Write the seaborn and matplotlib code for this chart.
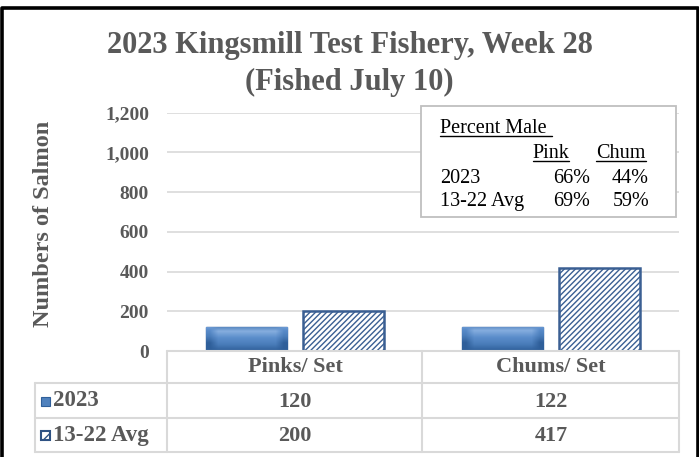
import matplotlib
matplotlib.use("Agg")
import matplotlib.pyplot as plt
import seaborn as sns
import pandas as pd
import numpy as np
from matplotlib.patches import Rectangle
from matplotlib.lines import Line2D
from matplotlib.colors import LinearSegmentedColormap

# data
categories = ["Pinks/ Set", "Chums/ Set"]
series = ["2023", "13-22 Avg"]
vals_2023 = [120, 122]
vals_avg = [200, 417]

pct_cols = ["Pink", "Chum"]
pct_rows = ["2023", "13-22 Avg"]
pct_2023 = ["66%", "44%"]
pct_avg = ["69%", "59%"]

df = pd.DataFrame({
    "cat": categories * 2,
    "series": [series[0]] * 2 + [series[1]] * 2,
    "n": vals_2023 + vals_avg,
})

sns.set_style("white")
plt.rcParams["font.family"] = ["Liberation Serif", "DejaVu Serif"]
plt.rcParams["hatch.linewidth"] = 1.0

gray = "#595959"
line_gray = "#D9D9D9"
blue = "#4F81BD"
dark_blue = "#2E5283"
W, H = 699, 457

# pixel helpers for the layout
def fx(px):
    return px / W

def fy(py):
    return 1 - py / H

fig = plt.figure(figsize=(W / 100, H / 100), dpi=100)
ax_l, ax_r, ax_b, ax_t = 167, 679, 351, 112.7
ax = fig.add_axes([fx(ax_l), fy(ax_b), (ax_r - ax_l) / W, (ax_b - ax_t) / H])

sns.barplot(data=df, x="cat", y="n", hue="series", order=categories,
            hue_order=series, palette=[blue, "white"], width=0.76, gap=0.16,
            errorbar=None, saturation=1, legend=False, ax=ax)

# bevelled look for the 2023 bars
bevel = LinearSegmentedColormap.from_list(
    "bevel", ["#2F5F9A", "#4A7DBA", "#5B8DCB", "#86AEDF", "#3F72B0"])
for bar in ax.containers[0]:
    bar.set_edgecolor("#2F5F9A")
    bar.set_linewidth(1.0)
    x0, y0 = bar.get_x(), bar.get_y()
    w, h = bar.get_width(), bar.get_height()
    g = np.linspace(0, 1, 50)[:, None] * np.ones((1, 10))
    side = np.abs(np.linspace(-1, 1, 10))[None, :]
    img = np.clip(g * 0.9 - (side > 0.85) * 0.3, 0, 1)
    im = ax.imshow(img, extent=[x0, x0 + w, y0, y0 + h], origin="lower",
                   cmap=bevel, aspect="auto", zorder=bar.get_zorder() + 0.1,
                   interpolation="bilinear", vmin=0, vmax=1)
    im.set_clip_path(bar)
for bar in ax.containers[1]:
    bar.set_hatch("//////")
    bar.set_edgecolor("#3A5F93")
    bar.set_linewidth(1.8)

ax.set_xlim(-0.5, 1.5)
ax.set_ylim(0, 1200)
ax.set_yticks(range(0, 1201, 200))
ax.set_yticklabels([f"{v:,}" for v in range(0, 1201, 200)])
ax.tick_params(axis="y", length=0, pad=13, labelsize=14, labelcolor=gray)
ax.tick_params(axis="x", length=0, labelbottom=False)
for lab in ax.get_yticklabels():
    lab.set_fontweight("bold")
ax.yaxis.grid(True, color=line_gray, lw=1.2)
ax.set_axisbelow(True)
for s in ax.spines.values():
    s.set_visible(False)
ax.set_xlabel("")
ax.set_ylabel("")

# titles
fig.text(0.5, fy(53), "2023 Kingsmill Test Fishery, Week 28", ha="center",
         va="baseline", fontsize=22, fontweight="bold", color=gray)
fig.text(0.5, fy(90), "(Fished July 10)", ha="center", va="baseline",
         fontsize=22, fontweight="bold", color=gray)
fig.text(fx(44), fy(224), "Numbers of Salmon", rotation=90, ha="center",
         va="center", fontsize=17.5, fontweight="bold", color=gray)

# data table under the axis
def hline(y, x0, x1):
    fig.add_artist(Line2D([fx(x0), fx(x1)], [fy(y), fy(y)], color=line_gray, lw=1.5))

def vline(x, y0, y1):
    fig.add_artist(Line2D([fx(x), fx(x)], [fy(y0), fy(y1)], color=line_gray, lw=1.5))

rows_y = [351, 383, 418, 452]
hline(351, 167, 679)
for y in rows_y[1:]:
    hline(y, 35, 679)
vline(35, 383, 452)
for x in [167, 422, 679]:
    vline(x, 351, 452)

xtr = ax.get_xaxis_transform()
def ay(py):
    return (ax_b - py) / (ax_b - ax_t)

for i, c in enumerate(categories):
    ax.text(i, ay(367), c, ha="center", va="center", fontsize=16,
            fontweight="bold", color=gray, transform=xtr, clip_on=False)
    ax.text(i, ay(402), str(vals_2023[i]), ha="center", va="center",
            fontsize=16, fontweight="bold", color=gray, transform=xtr, clip_on=False)
    ax.text(i, ay(436), str(vals_avg[i]), ha="center", va="center",
            fontsize=16, fontweight="bold", color=gray, transform=xtr, clip_on=False)

for j, (name, yc) in enumerate(zip(series, [401, 435])):
    fig.text(fx(53), fy(yc), name, ha="left", va="center", fontsize=16.5,
             fontweight="bold", color=gray)
    if j == 0:
        icon = Rectangle((fx(41), fy(yc + 4.5)), 9 / W, 9 / H, transform=fig.transFigure,
                         facecolor=blue, edgecolor="#2F5F9A", lw=0.8)
    else:
        icon = Rectangle((fx(41), fy(yc + 4.5)), 9 / W, 9 / H, transform=fig.transFigure,
                         facecolor="white", edgecolor=dark_blue, lw=1.5, hatch="//")
    fig.add_artist(icon)

# percent male box
fig.add_artist(Rectangle((fx(421), fy(217)), (676 - 421) / W, (217 - 106) / H,
                         transform=fig.transFigure, facecolor="white",
                         edgecolor="#BFBFBF", lw=1.3, zorder=2))

box_fs = 14.5
texts = []
t = fig.text(fx(440), fy(133), "Percent Male", ha="left", va="baseline",
             fontsize=box_fs, color="black", zorder=3)
texts.append((t, 5))
for name, xc in zip(pct_cols, [551, 621]):
    t = fig.text(fx(xc), fy(158), name, ha="center", va="baseline",
                 fontsize=box_fs, color="black", zorder=3)
    texts.append((t, 0))
for label, vals, yb in zip(pct_rows, [pct_2023, pct_avg], [183, 206]):
    fig.text(fx(440), fy(yb), label, ha="left", va="baseline", fontsize=box_fs,
             color="black", zorder=3)
    for v, xr in zip(vals, [590, 649]):
        fig.text(fx(xr), fy(yb), v, ha="right", va="baseline", fontsize=box_fs,
                 color="black", zorder=3)

fig.canvas.draw()
renderer = fig.canvas.get_renderer()
for t, extra in texts:
    bb = t.get_window_extent(renderer)
    x0, x1 = bb.x0 / W, (bb.x1 + extra) / W
    yb = t.get_position()[1] - 2.5 / H
    fig.add_artist(Line2D([x0, x1], [yb, yb], color="black", lw=1.0, zorder=3))

# outer frame
fig.add_artist(Line2D([fx(1.5), fx(1.5), fx(697.5), fx(697.5)],
                      [0, fy(8), fy(8), 0], color="black", lw=2.6))

fig.savefig("out.png", dpi=100)
